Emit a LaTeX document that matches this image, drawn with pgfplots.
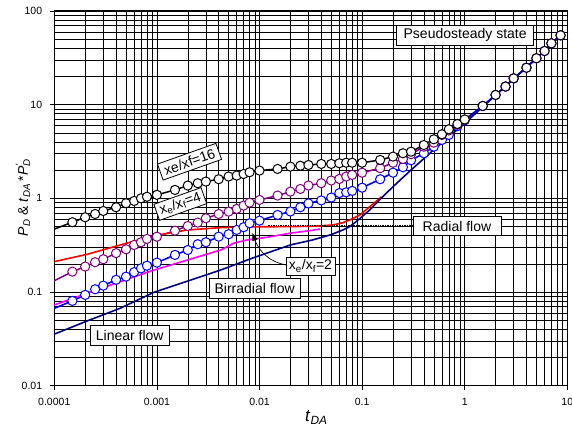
\documentclass[border=0pt]{standalone}
\usepackage{pgfplots}
\pgfplotsset{compat=1.18}
\usepackage{pgfplotstable}
\usepackage{fontspec}
\setmainfont{Liberation Sans}
\usetikzlibrary{arrows.meta}

\definecolor{cpurple}{RGB}{128,0,128}
\definecolor{cblue}{RGB}{0,0,255}
\definecolor{cred}{RGB}{255,0,0}
\definecolor{cpink}{RGB}{255,0,255}
\definecolor{cnavy}{RGB}{0,0,128}
\tikzset{annbox/.style={draw=black, fill=white, line width=0.8pt, inner sep=0pt, font=\fontsize{14}{16}\selectfont}}

\pgfplotstableread{
t y
1e-4 0.47
1.5e-4 0.556
2e-4 0.628
2.5e-4 0.681
3e-4 0.733
4e-4 0.803
5e-4 0.887
6e-4 0.938
7e-4 1.00
8e-4 1.04
1e-3 1.09
1.5e-3 1.23
2e-3 1.37
2.5e-3 1.45
3e-3 1.51
4e-3 1.60
5e-3 1.71
6e-3 1.75
7e-3 1.82
8e-3 1.90
1e-2 1.98
1.5e-2 2.06
2e-2 2.18
2.5e-2 2.23
3e-2 2.27
4e-2 2.33
5e-2 2.33
6e-2 2.37
7e-2 2.40
8e-2 2.40
1e-1 2.40
0.15 2.57
0.2 2.79
0.25 3.03
0.3 3.15
0.4 3.71
0.5 4.27
0.6 4.83
0.7 5.46
0.85 6.22
1 6.95
1.5 9.69
2 12.7
2.5 15.6
3 19.1
4 24.8
5 31.3
6 37.4
7 45.2
8.6 55.0
}\blackdata

\pgfplotstableread{
t y
1e-4 0.132
1.5e-4 0.165
2e-4 0.187
2.5e-4 0.208
3e-4 0.224
4e-4 0.260
5e-4 0.286
6e-4 0.318
7e-4 0.340
8e-4 0.369
1e-3 0.390
1.5e-3 0.452
2e-3 0.507
2.5e-3 0.551
3e-3 0.613
4e-3 0.681
5e-3 0.721
6e-3 0.771
7e-3 0.836
8e-3 0.900
1e-2 0.962
1.5e-2 1.07
2e-2 1.18
2.5e-2 1.26
3e-2 1.37
4e-2 1.45
5e-2 1.55
6e-2 1.61
7e-2 1.71
8e-2 1.78
0.1 1.88
0.15 2.10
0.2 2.40
0.25 2.63
0.3 2.96
0.4 3.56
0.5 3.93
0.6 4.75
0.7 5.3
0.85 6.1
1 6.9
1.5 9.69
2 12.7
2.5 15.6
3 19.1
4 24.8
5 31.3
6 37.4
7 45.2
8.6 55.0
}\purpledata

\pgfplotstableread{
t y
1e-4 0.067
1.5e-4 0.0804
2e-4 0.0931
2.5e-4 0.107
3e-4 0.117
4e-4 0.135
5e-4 0.146
6e-4 0.163
7e-4 0.179
8e-4 0.191
1e-3 0.206
1.5e-3 0.249
2e-3 0.281
2.5e-3 0.324
3e-3 0.340
4e-3 0.390
5e-3 0.414
6e-3 0.460
7e-3 0.492
8e-3 0.542
1e-2 0.578
1.5e-2 0.665
2e-2 0.724
2.5e-2 0.804
3e-2 0.883
4e-2 0.951
5e-2 1.02
6e-2 1.14
7e-2 1.16
8e-2 1.20
0.1 1.30
0.15 1.60
0.2 1.88
0.25 2.15
0.3 2.55
0.4 3.03
0.5 3.56
0.6 4.20
0.7 4.75
0.85 5.9
1 6.8
1.5 9.69
2 12.7
2.5 15.6
3 19.1
4 24.8
5 31.3
6 37.4
7 45.2
8.6 55.0
}\bluedata

\pgfplotstableread{
t y
1e-4 0.211
2.1e-4 0.253
4.4e-4 0.318
9.4e-4 0.400
2e-3 0.460
4.2e-3 0.487
1e-2 0.497
2e-2 0.499
3.5e-2 0.505
5.2e-2 0.520
6.5e-2 0.55
7.6e-2 0.588
9.5e-2 0.665
0.119 0.817
0.155 1.04
}\reddata

\pgfplotstableread{
t y
1e-4 0.0728
2.1e-4 0.097
4.4e-4 0.129
9.4e-4 0.172
2e-3 0.220
4.2e-3 0.281
5.6e-3 0.332
7.6e-3 0.360
1.2e-2 0.385
2e-2 0.425
3e-2 0.45
3.9e-2 0.471
}\pinkdata

\pgfplotstableread{
t y
1e-4 0.0355
2.1e-4 0.0492
4.4e-4 0.0672
9.4e-4 0.0995
2e-3 0.131
4.2e-3 0.172
8.8e-3 0.233
2e-2 0.318
3.3e-2 0.36
5e-2 0.41
6.5e-2 0.46
7.6e-2 0.50
9.2e-2 0.59
0.12 0.76
0.15 0.98
0.2 1.33
0.3 2.01
0.5 3.3
1 6.33
2 12.6
5 31.4
8.6 54.5
}\navydata

\begin{document}
\begin{tikzpicture}
\useasboundingbox (0,0) rectangle (572pt,426pt);
\begin{axis}[
  at={(54.3pt,40.3pt)}, anchor=south west,
  width=513pt, height=374.7pt, scale only axis,
  xmode=log, ymode=log,
  xmin=1e-4, xmax=10, ymin=0.01, ymax=100,
  xtick={1e-4,1e-3,1e-2,1e-1,1,10},
  xticklabels={0.0001,0.001,0.01,0.1,1,10},
  ytick={0.01,0.1,1,10,100},
  yticklabels={0.01,0.1,1,10,100},
  grid=both,
  major grid style={black, line width=0.7pt},
  minor grid style={black, line width=0.55pt},
  axis line style={black, line width=1pt},
  tick pos=left,
  tick align=outside,
  major tick length=4.5pt,
  minor tick length=0pt,
  tick style={black, line width=0.7pt},
  ticklabel style={font=\fontsize{10.5}{12}\selectfont},
  yticklabel style={inner sep=0pt, xshift=-7.5pt},
  xticklabel style={inner sep=0pt, yshift=-8pt},
  clip=false,
]
% lines
\addplot[black, line width=1.5pt] table[x=t,y=y] {\blackdata};
\addplot[cpurple, line width=1.5pt] table[x=t,y=y] {\purpledata};
\addplot[cblue, line width=1.6pt] table[x=t,y=y] {\bluedata};
\addplot[cred, line width=1.6pt] table[x=t,y=y] {\reddata};
\addplot[cpink, line width=1.6pt] table[x=t,y=y] {\pinkdata};
\addplot[cnavy, line width=1.6pt] table[x=t,y=y] {\navydata};
% radial flow dotted line
\addplot[black, densely dotted, line width=0.7pt] coordinates {(0.012,0.51) (0.31,0.51)};
% markers
\addplot[only marks, mark=*, mark size=4.6pt, mark options={fill=white, draw=cblue, line width=1pt}, skip coords between index={0}{1}] table[x=t,y=y] {\bluedata};
\addplot[only marks, mark=*, mark size=4.6pt, mark options={fill=white, draw=cpurple, line width=1pt}, skip coords between index={0}{1}] table[x=t,y=y] {\purpledata};
\addplot[only marks, mark=*, mark size=4.6pt, mark options={fill=white, draw=black, line width=1pt}, skip coords between index={0}{1}] table[x=t,y=y] {\blackdata};

% annotations
\node[annbox, minimum width=137pt, minimum height=20pt] at (axis cs:1.01,55.4) {Pseudosteady state};
\node[annbox, minimum width=88pt, minimum height=19pt] at (axis cs:0.841,0.504) {Radial flow};
\node[annbox, minimum width=79pt, minimum height=20pt] at (axis cs:5.44e-4,0.0342) {Linear flow};
\node[annbox, minimum width=91pt, minimum height=20pt] at (axis cs:0.00897,0.110) {Birradial flow};
\node[annbox, minimum width=49pt, minimum height=18pt] at (axis cs:0.0314,0.190) {x\textsubscript{e}/x\textsubscript{f}=2};
\node[annbox, minimum width=62pt, minimum height=17pt, rotate=19.5] at (axis cs:2.08e-3,2.46) {xe/xf=16};
\node[annbox, minimum width=50pt, minimum height=17pt, rotate=19.5] at (axis cs:1.69e-3,0.871) {x\textsubscript{e}/x\textsubscript{f}=4};
\draw[black, line width=0.7pt, -{Latex[length=8pt,width=6pt]}] (axis cs:0.0181,0.195) to[out=170,in=-70] (axis cs:0.0085,0.43);
\end{axis}
\node[rotate=90, font=\fontsize{14}{16}\selectfont, inner sep=0pt] at (23pt,226pt)
  {\textit{P}\textsubscript{\textit{D}} \& \textit{t}\textsubscript{\textit{DA}}\,*\textit{P}\rlap{\textsubscript{\textit{D}}}\textsuperscript{\textit{'}}};
\node[anchor=base west, inner sep=0pt, font=\fontsize{17}{19}\selectfont] at (305pt,4.5pt)
  {\textit{t}\textsubscript{\textit{DA}}};
\end{tikzpicture}
\end{document}
